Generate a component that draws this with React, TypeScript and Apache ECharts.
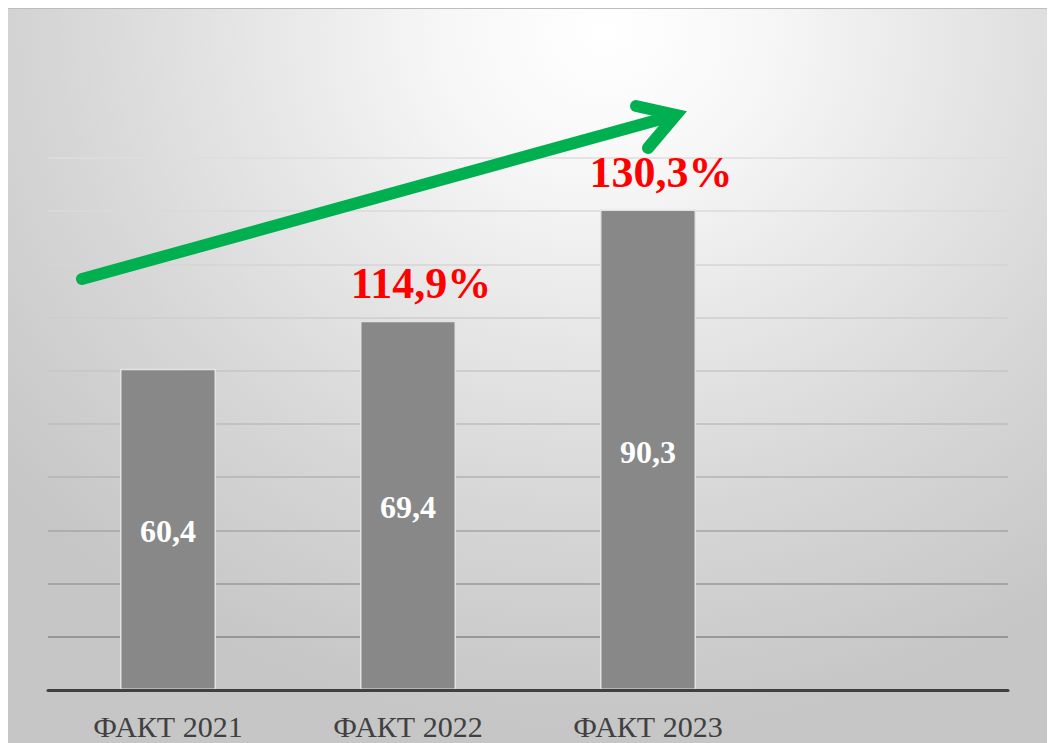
import React, { useEffect, useRef } from "react";
import * as echarts from "echarts";

const categories = ["ФАКТ 2021", "ФАКТ 2022", "ФАКТ 2023", ""];
const values = [60.4, 69.4, 90.3, null];
const growthLabels = ["", "114,9%", "130,3%", ""];
const yMin = 0;
const yMax = 100;
const yInterval = 10;

const gridColors = [
  "#7f7f7f",
  "#878787",
  "#989898",
  "#a6a6a6",
  "#b3b3b3",
  "#bdbdbd",
  "#c6c6c6",
  "#cecece",
  "#d5d5d5",
  "#dadada",
  "#dedede",
];

const fmt = (v: number) => String(v).replace(".", ",");

export default function App() {
  const ref = useRef<HTMLDivElement>(null);
  useEffect(() => {
    if (!ref.current) return;
    const chart = echarts.init(ref.current, null, { renderer: "svg" });
    const green = "#00b050";
    chart.setOption({
      animation: false,
      backgroundColor: "transparent",
      grid: {
        left: 40,
        right: 47,
        top: 149,
        bottom: 53,
        containLabel: false,
        outerBoundsMode: "none",
      },
      xAxis: {
        type: "category",
        data: categories,
        axisLine: { lineStyle: { color: "#404040", width: 3 } },
        axisTick: { show: false },
        axisLabel: {
          color: "#404040",
          fontFamily: "Liberation Serif",
          fontSize: 30,
          margin: 21,
        },
        z: 5,
      },
      yAxis: {
        type: "value",
        min: yMin,
        max: yMax,
        interval: yInterval,
        axisLabel: { show: false },
        axisLine: { show: false },
        axisTick: { show: false },
        splitLine: { lineStyle: { color: gridColors, width: 1.5 } },
      },
      series: [
        {
          type: "bar",
          data: values,
          barWidth: "40%",
          itemStyle: { color: "#888888", borderColor: "#e2e2e2", borderWidth: 1.5 },
          label: {
            show: true,
            position: "inside",
            offset: [0, 2],
            color: "#ffffff",
            fontFamily: "Liberation Serif",
            fontWeight: "bold",
            fontSize: 32,
            formatter: (p: any) => fmt(p.value),
          },
          z: 3,
        },
        {
          type: "bar",
          data: values,
          barWidth: "40%",
          barGap: "-100%",
          itemStyle: { color: "transparent" },
          label: {
            show: true,
            position: "top",
            distance: 15,
            offset: [13, 0],
            color: "#ff0000",
            fontFamily: "Liberation Serif",
            fontWeight: "bold",
            fontSize: 44,
            formatter: (p: any) => growthLabels[p.dataIndex] || "",
          },
          z: 4,
        },
      ],
      graphic: [
        {
          type: "line",
          shape: { x1: 74, y1: 270, x2: 664, y2: 107 },
          style: { stroke: green, lineWidth: 12, lineCap: "round" },
          z: 10,
        },
        {
          type: "polyline",
          shape: { points: [[628, 97], [668, 106], [640, 139]] },
          style: {
            stroke: green,
            fill: null,
            lineWidth: 12,
            lineCap: "round",
            lineJoin: "miter",
          },
          z: 10,
        },
      ],
    });
    return () => chart.dispose();
  }, []);
  return (
    <div
      ref={ref}
      style={{
        width: 1047,
        height: 735,
        borderTop: "1px solid #bdbdbd",
        boxSizing: "border-box",
        background:
          "radial-gradient(ellipse 75% 95% at 57% 3%, #ffffff 0%, #f7f7f7 20%, #e6e6e6 45%, #d6d6d6 70%, #c6c6c6 100%)",
      }}
    />
  );
}
